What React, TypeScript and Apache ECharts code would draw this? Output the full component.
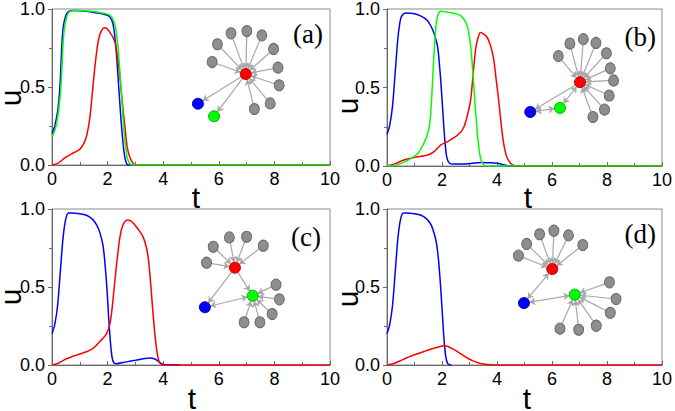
import React, { useEffect, useRef } from 'react';
import * as echarts from 'echarts';

type P = [number, number];
type N = [number, number, string];
type L = [number, number, number];

// x / y ticks
const X_MIN = 0, X_MAX = 10, X_STEP = 2;
const Y_MIN = 0, Y_MAX = 1, Y_STEP = 0.5;
const PANEL_LABELS = ['(a)', '(b)', '(c)', '(d)'];

// ---------- panel (a) curves ----------
const aBlue: P[] = [[0,0.2],[0.1,0.25],[0.2,0.34],[0.25,0.42],[0.3,0.55],[0.35,0.75],[0.4,0.88],[0.5,0.96],[0.6,0.985],[0.8,0.99],[1.2,0.985],[1.6,0.975],[1.9,0.965],[2.08,0.95],[2.2,0.9],[2.3,0.75],[2.4,0.5],[2.5,0.25],[2.6,0.07],[2.68,0.01],[2.75,0],[10,0]];
const aRed: P[] = [[0,0],[0.2,0.01],[0.5,0.05],[0.8,0.08],[1.0,0.1],[1.15,0.14],[1.25,0.19],[1.36,0.3],[1.45,0.46],[1.55,0.64],[1.65,0.78],[1.75,0.85],[1.9,0.88],[2.05,0.86],[2.26,0.79],[2.35,0.7],[2.44,0.57],[2.53,0.4],[2.62,0.25],[2.7,0.12],[2.8,0.05],[2.9,0.015],[3.0,0],[10,0]];
const aGreen: P[] = [[0,0.18],[0.1,0.22],[0.2,0.3],[0.3,0.45],[0.35,0.6],[0.4,0.78],[0.45,0.88],[0.55,0.96],[0.65,0.985],[0.9,0.99],[1.4,0.985],[1.8,0.975],[2.08,0.96],[2.2,0.93],[2.3,0.87],[2.4,0.7],[2.5,0.45],[2.6,0.2],[2.7,0.05],[2.8,0.01],[2.9,0],[10,0]];

// ---------- panel (b) curves ----------
const bBlue: P[] = [[0,0.2],[0.1,0.26],[0.2,0.38],[0.3,0.6],[0.4,0.82],[0.5,0.94],[0.6,0.97],[0.7,0.975],[1.0,0.97],[1.24,0.955],[1.45,0.93],[1.6,0.89],[1.72,0.84],[1.84,0.76],[1.92,0.62],[1.98,0.48],[2.04,0.32],[2.1,0.17],[2.17,0.06],[2.26,0.02],[2.4,0.012],[2.8,0.012],[3.1,0.018],[3.4,0.023],[3.8,0.02],[4.0,0.017],[4.2,0.01],[4.4,0.002],[4.6,0],[10,0]];
const bRed: P[] = [[0,0],[0.3,0.015],[0.64,0.04],[1.0,0.055],[1.48,0.07],[1.7,0.09],[1.96,0.135],[2.2,0.155],[2.44,0.18],[2.65,0.21],[2.8,0.25],[2.92,0.32],[3.04,0.42],[3.14,0.6],[3.22,0.74],[3.3,0.81],[3.4,0.85],[3.52,0.84],[3.64,0.82],[3.76,0.77],[3.88,0.68],[3.97,0.55],[4.06,0.42],[4.15,0.27],[4.24,0.145],[4.35,0.06],[4.48,0.02],[4.6,0.003],[4.7,0],[10,0]];
const bGreen: P[] = [[0,0],[0.3,0.005],[0.52,0.017],[0.8,0.04],[1.12,0.08],[1.3,0.13],[1.45,0.19],[1.55,0.26],[1.62,0.42],[1.68,0.62],[1.74,0.8],[1.8,0.92],[1.88,0.975],[1.96,0.985],[2.2,0.98],[2.5,0.97],[2.7,0.955],[2.85,0.92],[2.95,0.87],[3.05,0.75],[3.12,0.6],[3.18,0.45],[3.25,0.28],[3.32,0.15],[3.4,0.05],[3.5,0.01],[3.6,0],[10,0]];

// ---------- panel (c) curves ----------
const cBlue: P[] = [[0,0.2],[0.1,0.26],[0.2,0.38],[0.3,0.6],[0.4,0.82],[0.5,0.94],[0.6,0.975],[0.7,0.975],[1.0,0.97],[1.24,0.96],[1.45,0.935],[1.6,0.9],[1.72,0.85],[1.84,0.76],[1.92,0.62],[1.98,0.48],[2.04,0.3],[2.1,0.15],[2.16,0.05],[2.22,0.015],[2.3,0.008],[2.68,0.02],[3.0,0.03],[3.3,0.04],[3.52,0.045],[3.7,0.038],[3.82,0.025],[3.92,0.01],[4.0,0.004],[4.3,0.001],[4.6,0]];
const cRed: P[] = [[0,0],[0.2,0.01],[0.52,0.04],[0.9,0.065],[1.24,0.085],[1.5,0.11],[1.72,0.15],[1.96,0.2],[2.08,0.26],[2.16,0.36],[2.24,0.5],[2.32,0.64],[2.42,0.79],[2.5,0.87],[2.6,0.915],[2.7,0.93],[2.82,0.925],[2.92,0.91],[3.1,0.87],[3.28,0.82],[3.4,0.75],[3.48,0.66],[3.55,0.52],[3.62,0.36],[3.7,0.2],[3.78,0.08],[3.86,0.02],[3.95,0.003],[4.05,0],[10,0]];

// ---------- panel (d) curves ----------
const dBlue: P[] = [[0,0.2],[0.1,0.26],[0.2,0.38],[0.3,0.6],[0.4,0.82],[0.5,0.94],[0.6,0.975],[0.7,0.975],[1.0,0.97],[1.24,0.96],[1.45,0.935],[1.6,0.9],[1.72,0.84],[1.8,0.78],[1.87,0.68],[1.93,0.55],[1.98,0.42],[2.03,0.28],[2.08,0.15],[2.14,0.05],[2.2,0.012],[2.26,0.002],[2.35,0]];
const dRed: P[] = [[0,0],[0.25,0.01],[0.52,0.03],[0.7,0.045],[0.88,0.058],[1.2,0.077],[1.48,0.095],[1.8,0.112],[2.0,0.122],[2.08,0.124],[2.2,0.12],[2.44,0.098],[2.7,0.07],[2.92,0.045],[3.15,0.025],[3.4,0.01],[3.65,0.003],[3.9,0],[10,0]];

// ---------- network insets (t, u, kind) ----------
const aNodes: N[] = [[6.97,0.583,'r'],[5.25,0.393,'b'],[5.83,0.312,'g'],
  [5.76,0.66,'k'],[5.95,0.774,'k'],[6.44,0.844,'k'],[7.01,0.859,'k'],[7.55,0.831,'k'],[7.97,0.744,'k'],[8.13,0.624,'k'],[8.17,0.511,'k'],[7.85,0.395,'k'],[7.28,0.359,'k']];
const aLinks: L[] = [[0,1,1],[0,2,1],[3,0,1],[4,0,1],[5,0,1],[6,0,1],[7,0,1],[8,0,1],[9,0,1],[10,0,1],[11,0,1],[12,0,1]];

const bNodes: N[] = [[7.02,0.534,'r'],[5.21,0.344,'b'],[6.29,0.37,'g'],
  [6.23,0.7,'k'],[6.65,0.78,'k'],[7.14,0.808,'k'],[7.6,0.784,'k'],[7.98,0.718,'k'],[8.12,0.622,'k'],[8.24,0.545,'k'],[8.08,0.449,'k'],[7.91,0.359,'k'],[7.49,0.312,'k']];
const bLinks: L[] = [[0,1,1],[0,2,2],[1,2,2],[3,0,1],[4,0,1],[5,0,1],[6,0,1],[7,0,1],[8,0,1],[9,0,1],[10,0,1],[11,0,1],[12,0,1]];

const cNodes: N[] = [[6.58,0.624,'r'],[5.5,0.37,'b'],[7.22,0.444,'g'],
  [5.56,0.656,'k'],[5.8,0.758,'k'],[6.38,0.818,'k'],[7.0,0.822,'k'],[7.6,0.765,'k'],
  [8.06,0.515,'k'],[8.18,0.421,'k'],[7.92,0.327,'k'],[7.48,0.274,'k'],[6.91,0.274,'k']];
const cLinks: L[] = [[0,1,1],[0,2,1],[2,1,2],[3,0,1],[4,0,1],[5,0,1],[6,0,1],[7,0,1],[8,2,1],[9,2,1],[10,2,1],[11,2,1],[12,2,1]];

const dNodes: N[] = [[6.01,0.615,'r'],[4.98,0.397,'b'],[6.83,0.451,'g'],
  [4.78,0.701,'k'],[5.08,0.776,'k'],[5.55,0.838,'k'],[6.07,0.861,'k'],[6.6,0.831,'k'],[7.12,0.769,'k'],
  [8.09,0.53,'k'],[8.33,0.423,'k'],[8.12,0.335,'k'],[7.61,0.252,'k'],[6.97,0.226,'k'],[6.29,0.233,'k']];
const dLinks: L[] = [[0,1,2],[1,2,2],[3,0,1],[4,0,1],[5,0,1],[6,0,1],[7,0,1],[8,0,1],[9,2,1],[10,2,1],[11,2,1],[12,2,1],[13,2,1],[14,2,1]];

const RED = '#ff0000', BLUE = '#0000ff', GREEN = '#00ff00';
const SANS = '"Liberation Sans", Arial, sans-serif';
const SERIF = '"Liberation Serif", "Times New Roman", serif';

const GRIDS = [
  { left: 52, top: 9, width: 278, height: 156 },
  { left: 387, top: 9, width: 278, height: 157 },
  { left: 52, top: 209, width: 278, height: 156 },
  { left: 387, top: 209, width: 278, height: 156 },
];

const NODE_STYLE: Record<string, any> = {
  r: { color: RED, borderColor: '#c00000', borderWidth: 1 },
  b: { color: BLUE, borderColor: '#0000b0', borderWidth: 1 },
  g: { color: GREEN, borderColor: '#00b000', borderWidth: 1 },
  k: { color: '#8e8e8e', borderColor: '#6a6a6a', borderWidth: 1 },
};

function lineSeries(i: number, data: P[], color: string, z: number) {
  return {
    type: 'line', xAxisIndex: i, yAxisIndex: i, data, showSymbol: false, symbol: 'none',
    smooth: 0.3, lineStyle: { color, width: 1.5 }, z, silent: true,
  };
}

function graphSeries(i: number, nodes: N[], links: L[]) {
  return {
    type: 'graph', layout: 'none', coordinateSystem: 'cartesian2d', xAxisIndex: i, yAxisIndex: i,
    z: 10, silent: true, roam: false, label: { show: false },
    data: nodes.map((n) => ({
      value: [n[0], n[1]],
      symbolSize: n[2] === 'k' ? [10, 11] : 11,
      itemStyle: NODE_STYLE[n[2]],
    })),
    links: links.map((l) => ({
      source: l[0], target: l[1],
      symbol: l[2] === 2 ? ['arrow', 'arrow'] : ['none', 'arrow'],
      symbolSize: 6,
    })),
    lineStyle: { color: '#a8a8a8', width: 1.2, opacity: 1 },
    emphasis: { disabled: true },
  };
}

export default function App() {
  const ref = useRef<HTMLDivElement>(null);
  useEffect(() => {
    if (!ref.current) return;
    const chart = echarts.init(ref.current, undefined, { renderer: 'svg' });
    const axisColor = '#6a6a6a';
    const xAxis = GRIDS.map((_, i) => ({
      gridIndex: i, type: 'value', min: X_MIN, max: X_MAX, interval: X_STEP,
      axisLine: { show: true, onZero: false, lineStyle: { color: axisColor, width: 1 } },
      axisTick: { show: true, inside: true, length: 4, lineStyle: { color: axisColor } },
      minorTick: { show: true, splitNumber: 2, length: 3, lineStyle: { color: axisColor } },
      splitLine: { show: false },
      axisLabel: { color: '#000', fontSize: 18, margin: 5, fontFamily: SANS },
    }));
    const yAxis = GRIDS.map((_, i) => ({
      gridIndex: i, type: 'value', min: Y_MIN, max: Y_MAX, interval: Y_STEP,
      axisLine: { show: true, onZero: false, lineStyle: { color: axisColor, width: 1 } },
      axisTick: { show: true, inside: false, length: 4, lineStyle: { color: axisColor } },
      minorTick: { show: true, splitNumber: 2, length: 3, lineStyle: { color: axisColor } },
      splitLine: { show: false },
      axisLabel: { color: '#000', fontSize: 18, margin: 7, fontFamily: SANS, formatter: (v: number) => v.toFixed(1) },
    }));
    const grid = GRIDS.map((g) => ({ ...g, show: true, borderColor: '#8a8a8a', borderWidth: 1, backgroundColor: 'transparent' }));

    const series: any[] = [
      lineSeries(0, aBlue, BLUE, 2), lineSeries(0, aRed, RED, 3), lineSeries(0, aGreen, GREEN, 4),
      lineSeries(1, bBlue, BLUE, 2), lineSeries(1, bRed, RED, 3), lineSeries(1, bGreen, GREEN, 4),
      lineSeries(2, cBlue, BLUE, 2), lineSeries(2, cRed, RED, 3),
      lineSeries(3, dBlue, BLUE, 2), lineSeries(3, dRed, RED, 3),
      graphSeries(0, aNodes, aLinks), graphSeries(1, bNodes, bLinks),
      graphSeries(2, cNodes, cLinks), graphSeries(3, dNodes, dLinks),
    ];

    const uPos: P[] = [[10, 98], [347, 106], [10, 297], [347, 299]];
    const tPos: P[] = [[196, 197], [528, 197], [192, 398], [527, 398]];
    const pPos: P[] = [[323, 34], [656, 37], [321, 237], [656, 234]];
    const graphic: any[] = [];
    uPos.forEach((p) => graphic.push({
      type: 'text', x: p[0], y: p[1], rotation: Math.PI / 2,
      style: { text: 'u', font: `30px ${SANS}`, lineHeight: 20, fill: '#000', align: 'center', verticalAlign: 'middle' },
    }));
    tPos.forEach((p) => graphic.push({
      type: 'text', x: p[0], y: p[1],
      style: { text: 't', font: `30px ${SANS}`, lineHeight: 22, fill: '#000', align: 'center', verticalAlign: 'middle' },
    }));
    pPos.forEach((p, i) => graphic.push({
      type: 'text', x: p[0], y: p[1],
      style: { text: PANEL_LABELS[i], font: `27px ${SERIF}`, fill: '#000', align: 'right', verticalAlign: 'middle' },
    }));

    chart.setOption({
      animation: false,
      backgroundColor: '#ffffff',
      grid, xAxis, yAxis, series, graphic,
    });
    return () => chart.dispose();
  }, []);
  return <div ref={ref} style={{ position: 'absolute', left: 0, top: 0, width: 675, height: 411 }} />;
}
